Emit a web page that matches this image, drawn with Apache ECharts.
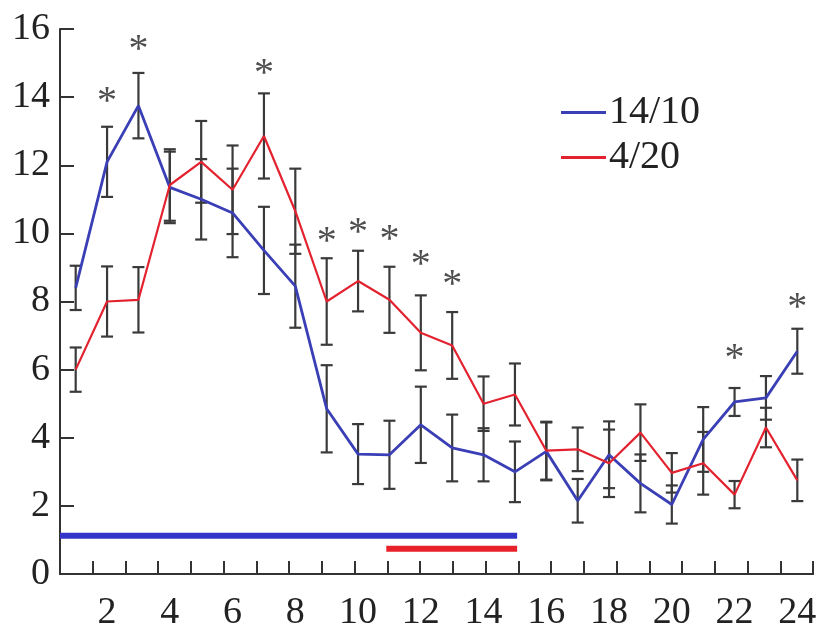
<!DOCTYPE html>
<html><head><meta charset="utf-8">
<script src="https://cdn.jsdelivr.net/npm/echarts@6/dist/echarts.min.js"></script>
<style>html,body{margin:0;padding:0;background:#fff}#c{width:821px;height:632px}</style>
</head><body><div id="c"></div>
<script>
const hours = [1,2,3,4,5,6,7,8,9,10,11,12,13,14,15,16,17,18,19,20,21,22,23,24];
const xTickLabels = [2,4,6,8,10,12,14,16,18,20,22,24];
const seriesNames = ['14/10','4/20'];
const blueMean = [8.4,12.1,13.75,11.35,11.0,10.6,9.5,8.45,4.85,3.52,3.5,4.38,3.7,3.5,3.0,3.6,2.15,3.5,2.66,2.04,3.95,5.05,5.17,6.54];
const blueErr  = [0.65,1.03,0.96,1.05,1.18,1.3,1.28,1.22,1.28,0.88,1.0,1.12,0.98,0.78,0.89,0.85,0.64,0.98,0.85,0.56,0.95,0.41,0.64,0.66];
const redMean  = [6.0,8.0,8.05,11.42,12.1,11.28,12.86,10.65,8.0,8.6,8.05,7.08,6.71,5.0,5.27,3.62,3.66,3.25,4.15,2.97,3.25,2.33,4.3,2.75];
const redErr   = [0.65,1.03,0.96,1.05,1.2,1.3,1.25,1.25,1.27,0.89,0.97,1.1,0.98,0.8,0.91,0.85,0.64,0.99,0.83,0.58,0.92,0.4,0.58,0.61];
const starHours = [2,3,7,9,10,11,12,13,22,24];
const starY     = [14.08,15.59,14.9,9.98,10.22,10.03,9.3,8.71,6.52,8.03];
const blueSpan = [0.5, 15.07], blueSpanY = 1.12;
const redSpan  = [10.9, 15.07], redSpanY = 0.74;

const FONT = 'Liberation Serif';
const BLUE = '#3b3fb6', RED = '#e3222f', BARC = '#3a3a3a';

function errData(mean, err){ return hours.map((h,i)=>[h, mean[i]-err[i], mean[i]+err[i]]); }
function errSeries(mean, err){
  return {
    type:'custom', z:1, silent:true,
    encode:{x:0, y:[1,2]},
    data: errData(mean, err),
    renderItem:(params, api)=>{
      const x = api.value(0);
      const lo = api.coord([x, api.value(1)]);
      const hi = api.coord([x, api.value(2)]);
      const w = 6, st = {stroke:BARC, lineWidth:2.2};
      return {type:'group', children:[
        {type:'line', shape:{x1:hi[0],y1:hi[1],x2:lo[0],y2:lo[1]}, style:st},
        {type:'line', shape:{x1:hi[0]-w,y1:hi[1],x2:hi[0]+w,y2:hi[1]}, style:st},
        {type:'line', shape:{x1:lo[0]-w,y1:lo[1],x2:lo[0]+w,y2:lo[1]}, style:st}
      ]};
    }
  };
}

const chart = echarts.init(document.getElementById('c'), null, {renderer:'canvas'});
chart.setOption({
  animation:false,
  backgroundColor:'#fff',
  grid:{left:60, right:8, top:29, bottom:56},
  legend:{
    orient:'vertical', left:556, top:85, itemGap:0,
    itemWidth:45, itemHeight:3, icon:'rect',
    data:seriesNames,
    textStyle:{fontFamily:FONT, fontSize:40, color:'#222', lineHeight:45, padding:[0,0,0,-2]}
  },
  xAxis:[{
    type:'value', min:0.5, max:24.5, position:'bottom',
    axisLine:{show:true, onZero:false, lineStyle:{color:'#333', width:2}},
    axisTick:{show:false},
    splitLine:{show:false},
    axisLabel:{customValues:xTickLabels, margin:20, fontFamily:FONT, fontSize:38, color:'#222'}
  },{
    type:'value', min:0, max:23, interval:1, position:'bottom',
    axisLine:{show:true, onZero:false, lineStyle:{color:'#333', width:2}},
    axisTick:{show:true, inside:true, length:13, lineStyle:{color:'#333', width:2}},
    axisLabel:{show:false}, splitLine:{show:false}
  }],
  yAxis:{
    type:'value', min:0, max:16, interval:2,
    axisLine:{show:true, onZero:false, lineStyle:{color:'#333', width:2}},
    axisTick:{show:true, inside:true, length:14, lineStyle:{color:'#333', width:2}},
    splitLine:{show:false},
    axisLabel:{margin:10, fontFamily:FONT, fontSize:38, color:'#222'}
  },
  series:[
    errSeries(blueMean, blueErr),
    errSeries(redMean, redErr),
    {name:seriesNames[0], type:'line', z:3, symbol:'none', data:hours.map((h,i)=>[h, blueMean[i]]),
      lineStyle:{color:BLUE, width:2.8}, itemStyle:{color:BLUE}},
    {name:seriesNames[1], type:'line', z:3, symbol:'none', data:hours.map((h,i)=>[h, redMean[i]]),
      lineStyle:{color:RED, width:2.2}, itemStyle:{color:RED}},
    {type:'scatter', z:4, symbolSize:1, itemStyle:{color:'rgba(0,0,0,0)'},
      data:starHours.map((h,i)=>[h, starY[i]]),
      label:{show:true, position:'inside', formatter:'*', fontFamily:FONT, fontSize:40, color:'#222', offset:[0,8]}},
    {type:'line', z:2, symbol:'none', data:blueSpan.map(x=>[x, blueSpanY]),
      lineStyle:{color:'#3434c8', width:6, cap:'butt'}},
    {type:'line', z:2, symbol:'none', data:redSpan.map(x=>[x, redSpanY]),
      lineStyle:{color:'#e8202a', width:6, cap:'butt'}}
  ]
});
</script></body></html>
